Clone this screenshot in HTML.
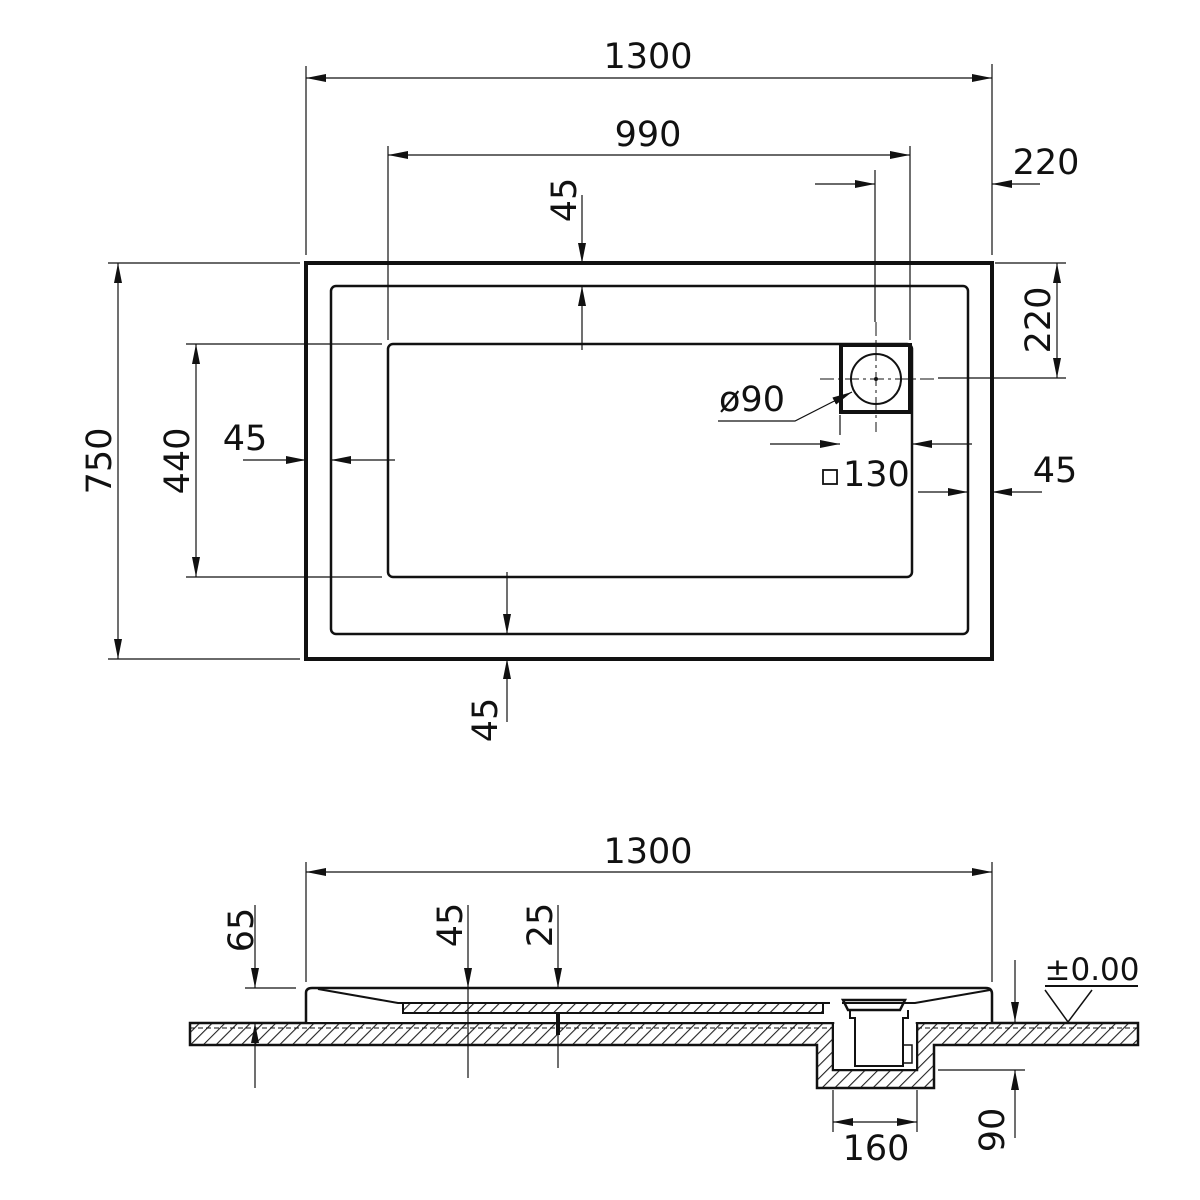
<!DOCTYPE html>
<html><head><meta charset="utf-8"><style>
html,body{margin:0;padding:0;background:#fff;}
svg{display:block;}
text{font-family:"DejaVu Sans","Liberation Sans",sans-serif;font-size:35px;fill:#111;}
</style></head><body>
<svg width="1200" height="1200" viewBox="0 0 1200 1200" xmlns="http://www.w3.org/2000/svg">
<defs>
<marker id="a" viewBox="0 0 20 8" refX="20" refY="4" markerWidth="20" markerHeight="8" markerUnits="userSpaceOnUse" orient="auto"><path d="M0,0 L20,4 L0,8 z" fill="#111"/></marker>
<pattern id="h" width="9" height="9" patternUnits="userSpaceOnUse" patternTransform="rotate(45)"><line x1="0" y1="0" x2="0" y2="9" stroke="#222" stroke-width="2.2"/></pattern>
</defs>
<g stroke="#111" fill="none">
<rect x="306" y="263" width="686" height="396" stroke-width="4"/>
<rect x="331" y="286" width="637" height="348" rx="5" stroke-width="2.5"/>
<rect x="388" y="344" width="524" height="233" rx="5" stroke-width="2.5"/>
<rect x="841" y="345" width="69" height="67" stroke-width="4" fill="#fff"/>
<circle cx="876" cy="379" r="25" stroke-width="2"/>
<circle cx="876" cy="379" r="1.5" fill="#111"/>
<g stroke-width="1" stroke-dasharray="14,4,3,4">
<line x1="876" y1="322" x2="876" y2="432"/>
<line x1="820" y1="379" x2="935" y2="379"/>
</g>
<g stroke-width="1.2">
<line x1="306" y1="66" x2="306" y2="255"/>
<line x1="992" y1="64" x2="992" y2="255"/>
<line x1="388" y1="146" x2="388" y2="340"/>
<line x1="910" y1="146" x2="910" y2="340"/>
<line x1="875" y1="170" x2="875" y2="322"/>
<line x1="995" y1="263" x2="1066" y2="263"/>
<line x1="938" y1="378" x2="1066" y2="378"/>
<line x1="108" y1="263" x2="300" y2="263"/>
<line x1="108" y1="659" x2="300" y2="659"/>
<line x1="186" y1="344" x2="382" y2="344"/>
<line x1="186" y1="577" x2="382" y2="577"/>
<line x1="840" y1="415" x2="840" y2="435"/>
<line x1="306" y1="78" x2="992" y2="78"/>
<line x1="388" y1="155" x2="910" y2="155"/>
<line x1="118" y1="263" x2="118" y2="659"/>
<line x1="196" y1="344" x2="196" y2="577"/>
<line x1="1057" y1="263" x2="1057" y2="378"/>
<line x1="815" y1="184" x2="875" y2="184" marker-end="url(#a)"/>
<line x1="1040" y1="184" x2="992" y2="184" marker-end="url(#a)"/>
<line x1="582" y1="195" x2="582" y2="263" marker-end="url(#a)"/>
<line x1="582" y1="350" x2="582" y2="286" marker-end="url(#a)"/>
<line x1="243" y1="460" x2="306" y2="460" marker-end="url(#a)"/>
<line x1="395" y1="460" x2="331" y2="460" marker-end="url(#a)"/>
<line x1="507" y1="572" x2="507" y2="634" marker-end="url(#a)"/>
<line x1="507" y1="722" x2="507" y2="659" marker-end="url(#a)"/>
<line x1="918" y1="492" x2="968" y2="492" marker-end="url(#a)"/>
<line x1="1042" y1="492" x2="992" y2="492" marker-end="url(#a)"/>
<line x1="770" y1="444" x2="840" y2="444" marker-end="url(#a)"/>
<line x1="972" y1="444" x2="912" y2="444" marker-end="url(#a)"/>
<polyline points="718,421 795,421 852,392" marker-end="url(#a)"/>
</g>
</g>
<g fill="#111">
<path d="M306,78 l20,-4 v8z M992,78 l-20,-4 v8z"/>
<path d="M388,155 l20,-4 v8z M910,155 l-20,-4 v8z"/>
<path d="M118,263 l-4,20 h8z M118,659 l-4,-20 h8z"/>
<path d="M196,344 l-4,20 h8z M196,577 l-4,-20 h8z"/>
<path d="M1057,263 l-4,20 h8z M1057,378 l-4,-20 h8z"/>
</g>
<text x="648" y="68" text-anchor="middle">1300</text>
<text x="648" y="146" text-anchor="middle">990</text>
<text x="1046" y="174" text-anchor="middle">220</text>
<text x="245" y="450" text-anchor="middle">45</text>
<text x="1055" y="482" text-anchor="middle">45</text>
<text x="752" y="411" text-anchor="middle">ø90</text>
<rect x="823" y="470" width="14" height="14" fill="none" stroke="#111" stroke-width="1.8"/>
<text x="843" y="486">130</text>
<text transform="translate(576,200) rotate(-90)" text-anchor="middle">45</text>
<text transform="translate(1050,320) rotate(-90)" text-anchor="middle">220</text>
<text transform="translate(111,461) rotate(-90)" text-anchor="middle">750</text>
<text transform="translate(189,461) rotate(-90)" text-anchor="middle">440</text>
<text transform="translate(497,720) rotate(-90)" text-anchor="middle">45</text>

<g stroke="#111" fill="none">
<polygon points="190,1023 833,1023 833,1070 917,1070 917,1023 1138,1023 1138,1045 934,1045 934,1088 817,1088 817,1045 190,1045" fill="url(#h)" stroke-width="2.5"/>
<line x1="190" y1="1028" x2="833" y2="1028" stroke-width="1" stroke-dasharray="5,3"/>
<line x1="917" y1="1028" x2="1138" y2="1028" stroke-width="1" stroke-dasharray="5,3"/>
<rect x="834" y="1024" width="82" height="45" fill="#fff" stroke="none"/>
<path d="M306,1022 V993 Q306,988 312,988 H986 Q992,988 992,994 V1022" fill="#fff" stroke-width="2.5"/>
<path d="M318,989 L398,1003 H830" stroke-width="2"/>
<path d="M990,990 L915,1003 H842" stroke-width="2"/>
<rect x="403" y="1003" width="420" height="10" fill="url(#h)" stroke-width="2"/>
<path d="M843,1000 H905 L900,1010 H848 Z" stroke-width="2.5"/>
<path d="M850,1010 V1018 H855 V1066 H903 V1018 H908 V1010" stroke-width="2"/>
<rect x="903" y="1045" width="9" height="18" stroke-width="1.5"/>
<g stroke-width="1.2">
<line x1="306" y1="862" x2="306" y2="982"/>
<line x1="992" y1="862" x2="992" y2="982"/>
<line x1="306" y1="872" x2="992" y2="872"/>
<line x1="245" y1="988" x2="296" y2="988"/>
<line x1="255" y1="905" x2="255" y2="988" marker-end="url(#a)"/>
<line x1="255" y1="1088" x2="255" y2="1023" marker-end="url(#a)"/>
<line x1="468" y1="905" x2="468" y2="988" marker-end="url(#a)"/>
<line x1="468" y1="988" x2="468" y2="1078"/>
<line x1="558" y1="905" x2="558" y2="988" marker-end="url(#a)"/>
<line x1="558" y1="1013" x2="558" y2="1068"/>
<line x1="1015" y1="960" x2="1015" y2="1022" marker-end="url(#a)"/>
<line x1="1015" y1="1138" x2="1015" y2="1070" marker-end="url(#a)"/>
<line x1="938" y1="1070" x2="1025" y2="1070"/>
<line x1="833" y1="1090" x2="833" y2="1132"/>
<line x1="917" y1="1090" x2="917" y2="1132"/>
<line x1="833" y1="1122" x2="917" y2="1122"/>
<line x1="1045" y1="986" x2="1138" y2="986" stroke-width="2"/>
<polyline points="1045,990 1068,1022 1092,990" stroke-width="1.5"/>
</g>
</g>
<g fill="#111">
<path d="M306,872 l20,-4 v8z M992,872 l-20,-4 v8z"/>
<path d="M833,1122 l20,-4 v8z M917,1122 l-20,-4 v8z"/>
<rect x="556" y="1013" width="4" height="22"/>
</g>
<text x="648" y="863" text-anchor="middle">1300</text>
<text x="1092" y="980" text-anchor="middle" style="font-size:31px">±0.00</text>
<text x="876" y="1160" text-anchor="middle">160</text>
<text transform="translate(253,930) rotate(-90)" text-anchor="middle">65</text>
<text transform="translate(462,925) rotate(-90)" text-anchor="middle">45</text>
<text transform="translate(552,925) rotate(-90)" text-anchor="middle">25</text>
<text transform="translate(1004,1130) rotate(-90)" text-anchor="middle">90</text>
</svg>
</body></html>
